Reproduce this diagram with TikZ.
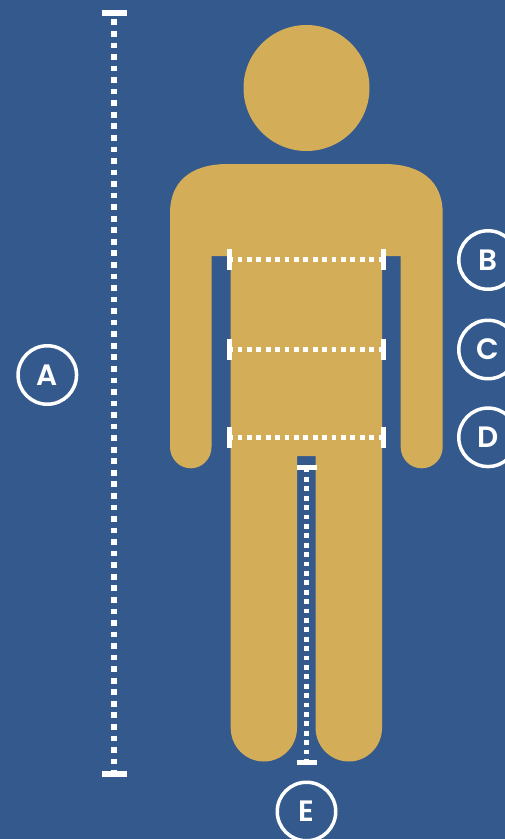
\documentclass[tikz,border=0pt]{standalone}
\usepackage{fontspec}
\usetikzlibrary{calc}
\setmainfont{Poppins SemiBold}
\definecolor{bgblue}{RGB}{52,89,140}
\definecolor{gold}{RGB}{212,173,88}
\tikzset{
  dotsbig/.style={draw=white,line width=5.7pt,dash pattern=on 5.7pt off 5.85pt},
  dotssmall/.style={draw=white,line width=4.8pt,dash pattern=on 4.8pt off 4.6pt},
  capbar/.style={draw=white,line width=5.5pt},
  badge/.style={circle,draw=white,line width=3.5pt,minimum size=58.5pt,inner sep=0pt,text=white,font=\fontsize{29.5}{29.5}\selectfont},
  figure/.style={fill=gold,draw=none}
}
\begin{document}
\begin{tikzpicture}[x=1pt,y=-1pt]
\path[use as bounding box] (0,0) rectangle (504,839);
\fill[bgblue] (-2,-2) rectangle (507,842);
% figure
\fill[figure] (306.5,88) circle[radius=63pt];
\path[figure] (228,164) -- (384,164)
  .. controls (423,164) and (442.7,183) .. (442.7,213)
  -- (442.7,447) .. controls (442.7,458.8) and (433.4,468.3) .. (421.7,468.3)
  .. controls (410,468.3) and (400.7,458.8) .. (400.7,447)
  -- (400.7,256) -- (382,256) -- (382,728)
  .. controls (382,746.4) and (367.2,761.5) .. (348.8,761.5)
  .. controls (330.4,761.5) and (315.6,746.4) .. (315.6,728)
  -- (315.6,456) -- (297,456) -- (297,728)
  .. controls (297,746.4) and (282.2,761.5) .. (263.8,761.5)
  .. controls (245.4,761.5) and (230.7,746.4) .. (230.7,728)
  -- (230.7,256) -- (211.5,256) -- (211.5,447)
  .. controls (211.5,458.8) and (202.2,468.3) .. (190.8,468.3)
  .. controls (179.4,468.3) and (170,458.8) .. (170,447)
  -- (170,213) .. controls (170,183) and (189,164) .. (228,164) -- cycle;
% coordinates
\coordinate (atop) at (114.3,12.8);
\coordinate (abot) at (114.3,773.8);
\coordinate (bl) at (229.8,259.5);
\coordinate (br) at (383.2,259.5);
\coordinate (cl) at (229.8,349.5);
\coordinate (cr) at (383.2,349.5);
\coordinate (dl) at (229.8,437.3);
\coordinate (dr) at (383.2,437.3);
\coordinate (etop) at (306.5,467.3);
\coordinate (ebot) at (306.5,762.2);
% dotted measures
\draw[dotsbig] ($(atop)+(0,6.65)$) -- (abot);
\draw[dotssmall] ($(bl)+(-1.6,0)$) -- (br);
\draw[dotssmall] ($(cl)+(-1.6,0)$) -- (cr);
\draw[dotssmall] ($(dl)+(-1.6,0)$) -- (dr);
\draw[dotssmall] ($(etop)+(0,0.2)$) -- (ebot);
% caps
\draw[capbar,line width=6pt] ($(atop)+(-12.4,0)$) -- ++(24.8,0);
\draw[capbar,line width=6pt] ($(abot)+(-12.4,0)$) -- ++(24.8,0);
\draw[capbar,line width=5pt] ($(bl)+(0,-10.2)$) -- ++(0,20.4);
\draw[capbar,line width=5pt] ($(br)+(0,-10.2)$) -- ++(0,20.4);
\draw[capbar,line width=5pt] ($(cl)+(0,-10.2)$) -- ++(0,20.4);
\draw[capbar,line width=5pt] ($(cr)+(0,-10.2)$) -- ++(0,20.4);
\draw[capbar,line width=5pt] ($(dl)+(0,-10.2)$) -- ++(0,20.4);
\draw[capbar,line width=5pt] ($(dr)+(0,-10.2)$) -- ++(0,20.4);
\draw[capbar,line width=4.7pt] ($(etop)+(-10,0)$) -- ++(20,0);
\draw[capbar,line width=4.7pt] ($(ebot)+(-10,0)$) -- ++(20,0);
% badges
\node[badge] (la) at (47.3,375) {A};
\node[badge] (lb) at (488,260) {B};
\node[badge] (lc) at (488,349.5) {C};
\node[badge] (ld) at (488,437.3) {D};
\node[badge] (le) at (306.5,811.5) {E};
\end{tikzpicture}
\end{document}
